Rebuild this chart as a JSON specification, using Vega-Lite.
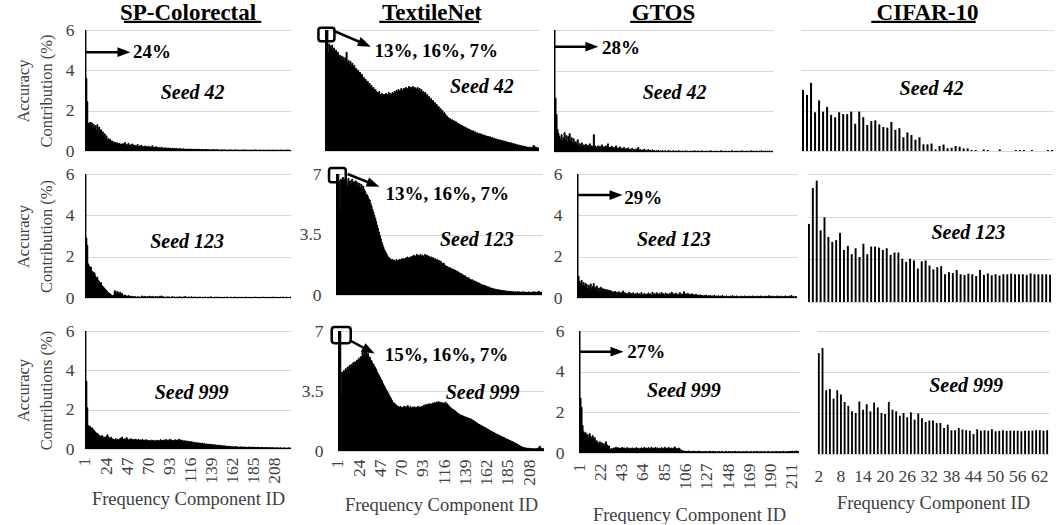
{
"padding":{"left":15,"top":2,"right":0,"bottom":0},
"background":"white",
"config":{
 "font":"Liberation Serif",
 "view":{"stroke":null},
 "axis":{"labelFont":"Liberation Serif","titleFont":"Liberation Serif","labelFontSize":17.5,"titleFontSize":18.5,"labelColor":"#404040","titleColor":"#404040","titleFontWeight":"normal","gridColor":"#d9d9d9","gridWidth":1,"domain":false,"ticks":false,"labelOverlap":false},
 "title":{"font":"Liberation Serif","fontSize":23,"fontWeight":"bold","color":"black","frame":"group","baseline":"alphabetic","offset":-4.5}
},
"datasets":{
"sp42":[{"x":1,"y":24},{"x":2,"y":3.6},{"x":3,"y":2.45},{"x":4,"y":1.38},{"x":5,"y":1.3},{"x":6,"y":1.42},{"x":7,"y":1.22},{"x":8,"y":1.4},{"x":9,"y":1.15},{"x":10,"y":1.32},{"x":11,"y":1.1},{"x":12,"y":1.25},{"x":13,"y":1.0},{"x":14,"y":1.3},{"x":15,"y":0.95},{"x":16,"y":1.18},{"x":17,"y":0.88},{"x":18,"y":1.05},{"x":19,"y":0.8},{"x":20,"y":0.95},{"x":21,"y":0.72},{"x":22,"y":0.85},{"x":23,"y":0.65},{"x":24,"y":0.75},{"x":25,"y":0.55},{"x":26,"y":0.62},{"x":27,"y":0.5},{"x":28,"y":0.58},{"x":29,"y":0.45},{"x":30,"y":0.5},{"x":31,"y":0.4},{"x":32,"y":0.45},{"x":33,"y":0.38},{"x":34,"y":0.42},{"x":35,"y":0.35},{"x":36,"y":0.4},{"x":37,"y":0.33},{"x":38,"y":0.38},{"x":39,"y":0.3},{"x":40,"y":0.35},{"x":41,"y":0.28},{"x":42,"y":0.36},{"x":43,"y":0.3},{"x":44,"y":0.42},{"x":45,"y":0.27},{"x":46,"y":0.33},{"x":47,"y":0.25},{"x":48,"y":0.38},{"x":49,"y":0.28},{"x":50,"y":0.3},{"x":51,"y":0.24},{"x":52,"y":0.35},{"x":53,"y":0.26},{"x":54,"y":0.3},{"x":55,"y":0.22},{"x":56,"y":0.27},{"x":57,"y":0.2},{"x":58,"y":0.32},{"x":59,"y":0.22},{"x":60,"y":0.25},{"x":61,"y":0.18},{"x":62,"y":0.28},{"x":63,"y":0.2},{"x":64,"y":0.23},{"x":65,"y":0.17},{"x":66,"y":0.25},{"x":67,"y":0.19},{"x":68,"y":0.22},{"x":69,"y":0.16},{"x":70,"y":0.24},{"x":71,"y":0.18},{"x":72,"y":0.2},{"x":73,"y":0.15},{"x":74,"y":0.26},{"x":75,"y":0.17},{"x":76,"y":0.19},{"x":77,"y":0.14},{"x":78,"y":0.21},{"x":79,"y":0.16},{"x":80,"y":0.18},{"x":81,"y":0.13},{"x":82,"y":0.17},{"x":83,"y":0.12},{"x":84,"y":0.19},{"x":85,"y":0.14},{"x":86,"y":0.15},{"x":87,"y":0.11},{"x":88,"y":0.16},{"x":89,"y":0.13},{"x":90,"y":0.14},{"x":91,"y":0.1},{"x":92,"y":0.15},{"x":93,"y":0.12},{"x":94,"y":0.13},{"x":95,"y":0.09},{"x":96,"y":0.14},{"x":97,"y":0.11},{"x":98,"y":0.12},{"x":99,"y":0.08},{"x":100,"y":0.13},{"x":101,"y":0.1},{"x":102,"y":0.11},{"x":103,"y":0.08},{"x":104,"y":0.12},{"x":105,"y":0.09},{"x":106,"y":0.1},{"x":107,"y":0.07},{"x":108,"y":0.11},{"x":109,"y":0.08},{"x":110,"y":0.09},{"x":111,"y":0.07},{"x":112,"y":0.1},{"x":113,"y":0.08},{"x":114,"y":0.09},{"x":115,"y":0.06},{"x":116,"y":0.1},{"x":117,"y":0.07},{"x":118,"y":0.08},{"x":119,"y":0.06},{"x":120,"y":0.09},{"x":121,"y":0.07},{"x":122,"y":0.08},{"x":123,"y":0.05},{"x":124,"y":0.09},{"x":125,"y":0.06},{"x":126,"y":0.07},{"x":127,"y":0.05},{"x":128,"y":0.08},{"x":129,"y":0.06},{"x":130,"y":0.07},{"x":131,"y":0.05},{"x":132,"y":0.08},{"x":133,"y":0.06},{"x":134,"y":0.07},{"x":135,"y":0.04},{"x":136,"y":0.07},{"x":137,"y":0.05},{"x":138,"y":0.06},{"x":139,"y":0.04},{"x":140,"y":0.07},{"x":141,"y":0.05},{"x":142,"y":0.06},{"x":143,"y":0.04},{"x":144,"y":0.07},{"x":145,"y":0.05},{"x":146,"y":0.06},{"x":147,"y":0.04},{"x":148,"y":0.05},{"x":149,"y":0.04},{"x":150,"y":0.06},{"x":151,"y":0.05},{"x":152,"y":0.04},{"x":153,"y":0.06},{"x":154,"y":0.04},{"x":155,"y":0.05},{"x":156,"y":0.03},{"x":157,"y":0.05},{"x":158,"y":0.04},{"x":159,"y":0.06},{"x":160,"y":0.04},{"x":161,"y":0.05},{"x":162,"y":0.03},{"x":163,"y":0.05},{"x":164,"y":0.04},{"x":165,"y":0.06},{"x":166,"y":0.03},{"x":167,"y":0.04},{"x":168,"y":0.05},{"x":169,"y":0.03},{"x":170,"y":0.04},{"x":171,"y":0.05},{"x":172,"y":0.03},{"x":173,"y":0.04},{"x":174,"y":0.06},{"x":175,"y":0.03},{"x":176,"y":0.04},{"x":177,"y":0.05},{"x":178,"y":0.03},{"x":179,"y":0.04},{"x":180,"y":0.03},{"x":181,"y":0.05},{"x":182,"y":0.04},{"x":183,"y":0.03},{"x":184,"y":0.05},{"x":185,"y":0.03},{"x":186,"y":0.04},{"x":187,"y":0.06},{"x":188,"y":0.03},{"x":189,"y":0.04},{"x":190,"y":0.03},{"x":191,"y":0.04},{"x":192,"y":0.05},{"x":193,"y":0.03},{"x":194,"y":0.04},{"x":195,"y":0.03},{"x":196,"y":0.05},{"x":197,"y":0.03},{"x":198,"y":0.04},{"x":199,"y":0.03},{"x":200,"y":0.04},{"x":201,"y":0.05},{"x":202,"y":0.03},{"x":203,"y":0.04},{"x":204,"y":0.03},{"x":205,"y":0.04},{"x":206,"y":0.05},{"x":207,"y":0.03},{"x":208,"y":0.04},{"x":209,"y":0.03},{"x":210,"y":0.05},{"x":211,"y":0.03},{"x":212,"y":0.04},{"x":213,"y":0.03},{"x":214,"y":0.04},{"x":215,"y":0.05},{"x":216,"y":0.03},{"x":217,"y":0.04},{"x":218,"y":0.03},{"x":219,"y":0.04},{"x":220,"y":0.03},{"x":221,"y":0.04},{"x":222,"y":0.05},{"x":223,"y":0.03},{"x":224,"y":0.04},{"x":225,"y":0.03}],
"sp123":[{"x":1,"y":6.4},{"x":2,"y":2.9},{"x":3,"y":2.55},{"x":4,"y":1.65},{"x":5,"y":1.55},{"x":6,"y":1.45},{"x":7,"y":1.5},{"x":8,"y":1.3},{"x":9,"y":1.2},{"x":10,"y":1.25},{"x":11,"y":1.2},{"x":12,"y":1.05},{"x":13,"y":0.95},{"x":14,"y":1.0},{"x":15,"y":0.85},{"x":16,"y":0.8},{"x":17,"y":0.7},{"x":18,"y":0.75},{"x":19,"y":0.6},{"x":20,"y":0.55},{"x":21,"y":0.5},{"x":22,"y":0.45},{"x":23,"y":0.4},{"x":24,"y":0.35},{"x":25,"y":0.3},{"x":26,"y":0.25},{"x":27,"y":0.22},{"x":28,"y":0.2},{"x":29,"y":0.15},{"x":30,"y":0.12},{"x":31,"y":0.1},{"x":32,"y":0.15},{"x":33,"y":0.35},{"x":34,"y":0.3},{"x":35,"y":0.2},{"x":36,"y":0.32},{"x":37,"y":0.25},{"x":38,"y":0.18},{"x":39,"y":0.28},{"x":40,"y":0.15},{"x":41,"y":0.22},{"x":42,"y":0.12},{"x":43,"y":0.1},{"x":44,"y":0.15},{"x":45,"y":0.08},{"x":46,"y":0.1},{"x":47,"y":0.06},{"x":48,"y":0.12},{"x":49,"y":0.07},{"x":50,"y":0.09},{"x":51,"y":0.05},{"x":52,"y":0.08},{"x":53,"y":0.06},{"x":54,"y":0.04},{"x":55,"y":0.07},{"x":56,"y":0.05},{"x":57,"y":0.03},{"x":58,"y":0.06},{"x":59,"y":0.04},{"x":60,"y":0.05},{"x":61,"y":0.03},{"x":62,"y":0.05},{"x":63,"y":0.1},{"x":64,"y":0.04},{"x":65,"y":0.06},{"x":66,"y":0.08},{"x":67,"y":0.03},{"x":68,"y":0.05},{"x":69,"y":0.07},{"x":70,"y":0.04},{"x":71,"y":0.09},{"x":72,"y":0.05},{"x":73,"y":0.06},{"x":74,"y":0.04},{"x":75,"y":0.08},{"x":76,"y":0.03},{"x":77,"y":0.05},{"x":78,"y":0.07},{"x":79,"y":0.04},{"x":80,"y":0.06},{"x":81,"y":0.03},{"x":82,"y":0.08},{"x":83,"y":0.05},{"x":84,"y":0.1},{"x":85,"y":0.04},{"x":86,"y":0.06},{"x":87,"y":0.03},{"x":88,"y":0.05},{"x":89,"y":0.02},{"x":90,"y":0.04},{"x":91,"y":0.06},{"x":92,"y":0.03},{"x":93,"y":0.05},{"x":94,"y":0.02},{"x":95,"y":0.04},{"x":96,"y":0.07},{"x":97,"y":0.03},{"x":98,"y":0.05},{"x":99,"y":0.02},{"x":100,"y":0.04},{"x":101,"y":0.03},{"x":102,"y":0.05},{"x":103,"y":0.02},{"x":104,"y":0.06},{"x":105,"y":0.03},{"x":106,"y":0.04},{"x":107,"y":0.02},{"x":108,"y":0.05},{"x":109,"y":0.03},{"x":110,"y":0.08},{"x":111,"y":0.02},{"x":112,"y":0.04},{"x":113,"y":0.03},{"x":114,"y":0.05},{"x":115,"y":0.02},{"x":116,"y":0.03},{"x":117,"y":0.06},{"x":118,"y":0.02},{"x":119,"y":0.04},{"x":120,"y":0.03},{"x":121,"y":0.05},{"x":122,"y":0.02},{"x":123,"y":0.03},{"x":124,"y":0.04},{"x":125,"y":0.02},{"x":126,"y":0.05},{"x":127,"y":0.03},{"x":128,"y":0.02},{"x":129,"y":0.04},{"x":130,"y":0.03},{"x":131,"y":0.02},{"x":132,"y":0.05},{"x":133,"y":0.03},{"x":134,"y":0.02},{"x":135,"y":0.04},{"x":136,"y":0.02},{"x":137,"y":0.03},{"x":138,"y":0.06},{"x":139,"y":0.02},{"x":140,"y":0.03},{"x":141,"y":0.02},{"x":142,"y":0.04},{"x":143,"y":0.03},{"x":144,"y":0.02},{"x":145,"y":0.05},{"x":146,"y":0.02},{"x":147,"y":0.03},{"x":148,"y":0.02},{"x":149,"y":0.04},{"x":150,"y":0.02},{"x":151,"y":0.03},{"x":152,"y":0.02},{"x":153,"y":0.04},{"x":154,"y":0.02},{"x":155,"y":0.03},{"x":156,"y":0.05},{"x":157,"y":0.02},{"x":158,"y":0.03},{"x":159,"y":0.02},{"x":160,"y":0.04},{"x":161,"y":0.02},{"x":162,"y":0.03},{"x":163,"y":0.02},{"x":164,"y":0.05},{"x":165,"y":0.02},{"x":166,"y":0.03},{"x":167,"y":0.02},{"x":168,"y":0.04},{"x":169,"y":0.02},{"x":170,"y":0.03},{"x":171,"y":0.02},{"x":172,"y":0.04},{"x":173,"y":0.02},{"x":174,"y":0.03},{"x":175,"y":0.02},{"x":176,"y":0.05},{"x":177,"y":0.02},{"x":178,"y":0.03},{"x":179,"y":0.02},{"x":180,"y":0.04},{"x":181,"y":0.02},{"x":182,"y":0.03},{"x":183,"y":0.02},{"x":184,"y":0.04},{"x":185,"y":0.02},{"x":186,"y":0.03},{"x":187,"y":0.05},{"x":188,"y":0.02},{"x":189,"y":0.03},{"x":190,"y":0.02},{"x":191,"y":0.04},{"x":192,"y":0.02},{"x":193,"y":0.03},{"x":194,"y":0.02},{"x":195,"y":0.05},{"x":196,"y":0.02},{"x":197,"y":0.03},{"x":198,"y":0.02},{"x":199,"y":0.04},{"x":200,"y":0.02},{"x":201,"y":0.03},{"x":202,"y":0.02},{"x":203,"y":0.04},{"x":204,"y":0.02},{"x":205,"y":0.03},{"x":206,"y":0.05},{"x":207,"y":0.02},{"x":208,"y":0.03},{"x":209,"y":0.02},{"x":210,"y":0.04},{"x":211,"y":0.02},{"x":212,"y":0.03},{"x":213,"y":0.02},{"x":214,"y":0.04},{"x":215,"y":0.02},{"x":216,"y":0.03},{"x":217,"y":0.05},{"x":218,"y":0.02},{"x":219,"y":0.03},{"x":220,"y":0.02},{"x":221,"y":0.04},{"x":222,"y":0.02},{"x":223,"y":0.03},{"x":224,"y":0.02},{"x":225,"y":0.04}],
"sp999":[{"x":1,"y":6.5},{"x":2,"y":3.45},{"x":3,"y":2.1},{"x":4,"y":1.2},{"x":5,"y":1.1},{"x":6,"y":1.15},{"x":7,"y":1.05},{"x":8,"y":1.08},{"x":9,"y":1.02},{"x":10,"y":0.95},{"x":11,"y":0.9},{"x":12,"y":0.85},{"x":13,"y":0.78},{"x":14,"y":0.8},{"x":15,"y":0.72},{"x":16,"y":0.7},{"x":17,"y":0.65},{"x":18,"y":0.6},{"x":19,"y":0.68},{"x":20,"y":0.62},{"x":21,"y":0.55},{"x":22,"y":0.6},{"x":23,"y":0.58},{"x":24,"y":0.65},{"x":25,"y":0.72},{"x":26,"y":0.62},{"x":27,"y":0.55},{"x":28,"y":0.5},{"x":29,"y":0.6},{"x":30,"y":0.52},{"x":31,"y":0.5},{"x":32,"y":0.48},{"x":33,"y":0.45},{"x":34,"y":0.52},{"x":35,"y":0.44},{"x":36,"y":0.5},{"x":37,"y":0.47},{"x":38,"y":0.42},{"x":39,"y":0.55},{"x":40,"y":0.48},{"x":41,"y":0.6},{"x":42,"y":0.5},{"x":43,"y":0.46},{"x":44,"y":0.52},{"x":45,"y":0.45},{"x":46,"y":0.58},{"x":47,"y":0.49},{"x":48,"y":0.43},{"x":49,"y":0.5},{"x":50,"y":0.46},{"x":51,"y":0.52},{"x":52,"y":0.44},{"x":53,"y":0.48},{"x":54,"y":0.41},{"x":55,"y":0.5},{"x":56,"y":0.45},{"x":57,"y":0.47},{"x":58,"y":0.42},{"x":59,"y":0.49},{"x":60,"y":0.44},{"x":61,"y":0.46},{"x":62,"y":0.4},{"x":63,"y":0.48},{"x":64,"y":0.43},{"x":65,"y":0.45},{"x":66,"y":0.39},{"x":67,"y":0.47},{"x":68,"y":0.42},{"x":69,"y":0.44},{"x":70,"y":0.4},{"x":71,"y":0.43},{"x":72,"y":0.38},{"x":73,"y":0.45},{"x":74,"y":0.41},{"x":75,"y":0.44},{"x":76,"y":0.37},{"x":77,"y":0.42},{"x":78,"y":0.4},{"x":79,"y":0.45},{"x":80,"y":0.39},{"x":81,"y":0.43},{"x":82,"y":0.4},{"x":83,"y":0.47},{"x":84,"y":0.41},{"x":85,"y":0.44},{"x":86,"y":0.38},{"x":87,"y":0.46},{"x":88,"y":0.42},{"x":89,"y":0.48},{"x":90,"y":0.4},{"x":91,"y":0.45},{"x":92,"y":0.41},{"x":93,"y":0.5},{"x":94,"y":0.43},{"x":95,"y":0.46},{"x":96,"y":0.4},{"x":97,"y":0.44},{"x":98,"y":0.38},{"x":99,"y":0.47},{"x":100,"y":0.42},{"x":101,"y":0.45},{"x":102,"y":0.39},{"x":103,"y":0.5},{"x":104,"y":0.42},{"x":105,"y":0.46},{"x":106,"y":0.4},{"x":107,"y":0.44},{"x":108,"y":0.37},{"x":109,"y":0.42},{"x":110,"y":0.38},{"x":111,"y":0.41},{"x":112,"y":0.35},{"x":113,"y":0.4},{"x":114,"y":0.36},{"x":115,"y":0.38},{"x":116,"y":0.33},{"x":117,"y":0.37},{"x":118,"y":0.32},{"x":119,"y":0.35},{"x":120,"y":0.3},{"x":121,"y":0.33},{"x":122,"y":0.29},{"x":123,"y":0.32},{"x":124,"y":0.28},{"x":125,"y":0.31},{"x":126,"y":0.26},{"x":127,"y":0.29},{"x":128,"y":0.25},{"x":129,"y":0.3},{"x":130,"y":0.24},{"x":131,"y":0.27},{"x":132,"y":0.23},{"x":133,"y":0.26},{"x":134,"y":0.22},{"x":135,"y":0.25},{"x":136,"y":0.21},{"x":137,"y":0.24},{"x":138,"y":0.2},{"x":139,"y":0.23},{"x":140,"y":0.19},{"x":141,"y":0.22},{"x":142,"y":0.18},{"x":143,"y":0.21},{"x":144,"y":0.17},{"x":145,"y":0.2},{"x":146,"y":0.16},{"x":147,"y":0.19},{"x":148,"y":0.15},{"x":149,"y":0.18},{"x":150,"y":0.14},{"x":151,"y":0.17},{"x":152,"y":0.13},{"x":153,"y":0.16},{"x":154,"y":0.12},{"x":155,"y":0.15},{"x":156,"y":0.12},{"x":157,"y":0.14},{"x":158,"y":0.11},{"x":159,"y":0.13},{"x":160,"y":0.1},{"x":161,"y":0.12},{"x":162,"y":0.1},{"x":163,"y":0.11},{"x":164,"y":0.09},{"x":165,"y":0.12},{"x":166,"y":0.1},{"x":167,"y":0.11},{"x":168,"y":0.08},{"x":169,"y":0.1},{"x":170,"y":0.09},{"x":171,"y":0.11},{"x":172,"y":0.08},{"x":173,"y":0.1},{"x":174,"y":0.09},{"x":175,"y":0.1},{"x":176,"y":0.08},{"x":177,"y":0.09},{"x":178,"y":0.07},{"x":179,"y":0.1},{"x":180,"y":0.08},{"x":181,"y":0.09},{"x":182,"y":0.07},{"x":183,"y":0.1},{"x":184,"y":0.08},{"x":185,"y":0.09},{"x":186,"y":0.07},{"x":187,"y":0.08},{"x":188,"y":0.06},{"x":189,"y":0.09},{"x":190,"y":0.07},{"x":191,"y":0.08},{"x":192,"y":0.06},{"x":193,"y":0.07},{"x":194,"y":0.08},{"x":195,"y":0.06},{"x":196,"y":0.07},{"x":197,"y":0.05},{"x":198,"y":0.08},{"x":199,"y":0.06},{"x":200,"y":0.07},{"x":201,"y":0.05},{"x":202,"y":0.07},{"x":203,"y":0.06},{"x":204,"y":0.05},{"x":205,"y":0.07},{"x":206,"y":0.05},{"x":207,"y":0.06},{"x":208,"y":0.04},{"x":209,"y":0.06},{"x":210,"y":0.05},{"x":211,"y":0.06},{"x":212,"y":0.04},{"x":213,"y":0.05},{"x":214,"y":0.06},{"x":215,"y":0.04},{"x":216,"y":0.05},{"x":217,"y":0.04},{"x":218,"y":0.06},{"x":219,"y":0.04},{"x":220,"y":0.05},{"x":221,"y":0.04},{"x":222,"y":0.05},{"x":223,"y":0.06},{"x":224,"y":0.04},{"x":225,"y":0.05}],
"tn42":[{"x":1,"y":13},{"x":2,"y":16},{"x":3,"y":7},{"x":4,"y":4.9},{"x":5,"y":5.3},{"x":6,"y":5.2},{"x":7,"y":5.05},{"x":8,"y":5.25},{"x":9,"y":4.95},{"x":10,"y":5.1},{"x":11,"y":4.85},{"x":12,"y":5.0},{"x":13,"y":4.7},{"x":14,"y":4.9},{"x":15,"y":4.6},{"x":16,"y":4.75},{"x":17,"y":4.55},{"x":18,"y":4.7},{"x":19,"y":4.5},{"x":20,"y":4.65},{"x":21,"y":4.45},{"x":22,"y":4.6},{"x":23,"y":4.9},{"x":24,"y":4.4},{"x":25,"y":4.5},{"x":26,"y":4.3},{"x":27,"y":4.45},{"x":28,"y":4.2},{"x":29,"y":4.35},{"x":30,"y":4.15},{"x":31,"y":4.25},{"x":32,"y":4.05},{"x":33,"y":4.1},{"x":34,"y":3.95},{"x":35,"y":4.0},{"x":36,"y":3.85},{"x":37,"y":3.9},{"x":38,"y":3.75},{"x":39,"y":3.8},{"x":40,"y":3.6},{"x":41,"y":3.65},{"x":42,"y":3.5},{"x":43,"y":3.55},{"x":44,"y":3.4},{"x":45,"y":3.45},{"x":46,"y":3.3},{"x":47,"y":3.35},{"x":48,"y":3.2},{"x":49,"y":3.25},{"x":50,"y":3.1},{"x":51,"y":3.15},{"x":52,"y":3.0},{"x":53,"y":3.05},{"x":54,"y":2.95},{"x":55,"y":2.9},{"x":56,"y":2.85},{"x":57,"y":2.95},{"x":58,"y":2.8},{"x":59,"y":2.75},{"x":60,"y":2.85},{"x":61,"y":2.7},{"x":62,"y":2.8},{"x":63,"y":2.75},{"x":64,"y":2.85},{"x":65,"y":2.7},{"x":66,"y":2.8},{"x":67,"y":2.9},{"x":68,"y":2.75},{"x":69,"y":2.85},{"x":70,"y":2.8},{"x":71,"y":2.9},{"x":72,"y":2.85},{"x":73,"y":2.95},{"x":74,"y":2.9},{"x":75,"y":3.0},{"x":76,"y":2.9},{"x":77,"y":3.05},{"x":78,"y":2.95},{"x":79,"y":3.0},{"x":80,"y":3.1},{"x":81,"y":2.95},{"x":82,"y":3.05},{"x":83,"y":3.1},{"x":84,"y":3.0},{"x":85,"y":3.15},{"x":86,"y":3.05},{"x":87,"y":3.1},{"x":88,"y":3.2},{"x":89,"y":3.05},{"x":90,"y":3.15},{"x":91,"y":3.1},{"x":92,"y":3.2},{"x":93,"y":3.05},{"x":94,"y":3.15},{"x":95,"y":3.1},{"x":96,"y":3.05},{"x":97,"y":3.15},{"x":98,"y":3.0},{"x":99,"y":3.1},{"x":100,"y":2.95},{"x":101,"y":3.05},{"x":102,"y":2.9},{"x":103,"y":2.95},{"x":104,"y":2.85},{"x":105,"y":2.9},{"x":106,"y":2.75},{"x":107,"y":2.8},{"x":108,"y":2.65},{"x":109,"y":2.7},{"x":110,"y":2.55},{"x":111,"y":2.6},{"x":112,"y":2.45},{"x":113,"y":2.5},{"x":114,"y":2.35},{"x":115,"y":2.4},{"x":116,"y":2.25},{"x":117,"y":2.3},{"x":118,"y":2.15},{"x":119,"y":2.2},{"x":120,"y":2.05},{"x":121,"y":2.1},{"x":122,"y":1.95},{"x":123,"y":2.0},{"x":124,"y":1.85},{"x":125,"y":1.9},{"x":126,"y":1.8},{"x":127,"y":1.75},{"x":128,"y":1.7},{"x":129,"y":1.65},{"x":130,"y":1.6},{"x":131,"y":1.6},{"x":132,"y":1.5},{"x":133,"y":1.55},{"x":134,"y":1.45},{"x":135,"y":1.5},{"x":136,"y":1.4},{"x":137,"y":1.45},{"x":138,"y":1.35},{"x":139,"y":1.38},{"x":140,"y":1.3},{"x":141,"y":1.32},{"x":142,"y":1.25},{"x":143,"y":1.28},{"x":144,"y":1.2},{"x":145,"y":1.22},{"x":146,"y":1.15},{"x":147,"y":1.18},{"x":148,"y":1.1},{"x":149,"y":1.12},{"x":150,"y":1.05},{"x":151,"y":1.08},{"x":152,"y":1.0},{"x":153,"y":1.02},{"x":154,"y":0.95},{"x":155,"y":1.0},{"x":156,"y":0.92},{"x":157,"y":0.95},{"x":158,"y":0.88},{"x":159,"y":0.9},{"x":160,"y":0.85},{"x":161,"y":0.87},{"x":162,"y":0.82},{"x":163,"y":0.85},{"x":164,"y":0.78},{"x":165,"y":0.8},{"x":166,"y":0.75},{"x":167,"y":0.78},{"x":168,"y":0.72},{"x":169,"y":0.74},{"x":170,"y":0.7},{"x":171,"y":0.72},{"x":172,"y":0.66},{"x":173,"y":0.7},{"x":174,"y":0.63},{"x":175,"y":0.66},{"x":176,"y":0.6},{"x":177,"y":0.63},{"x":178,"y":0.57},{"x":179,"y":0.6},{"x":180,"y":0.55},{"x":181,"y":0.57},{"x":182,"y":0.52},{"x":183,"y":0.55},{"x":184,"y":0.49},{"x":185,"y":0.52},{"x":186,"y":0.46},{"x":187,"y":0.5},{"x":188,"y":0.44},{"x":189,"y":0.47},{"x":190,"y":0.42},{"x":191,"y":0.44},{"x":192,"y":0.39},{"x":193,"y":0.42},{"x":194,"y":0.36},{"x":195,"y":0.4},{"x":196,"y":0.34},{"x":197,"y":0.37},{"x":198,"y":0.31},{"x":199,"y":0.34},{"x":200,"y":0.29},{"x":201,"y":0.31},{"x":202,"y":0.26},{"x":203,"y":0.29},{"x":204,"y":0.24},{"x":205,"y":0.27},{"x":206,"y":0.22},{"x":207,"y":0.25},{"x":208,"y":0.2},{"x":209,"y":0.23},{"x":210,"y":0.18},{"x":211,"y":0.2},{"x":212,"y":0.16},{"x":213,"y":0.19},{"x":214,"y":0.15},{"x":215,"y":0.18},{"x":216,"y":0.14},{"x":217,"y":0.2},{"x":218,"y":0.28},{"x":219,"y":0.22},{"x":220,"y":0.16},{"x":221,"y":0.18},{"x":222,"y":0.14},{"x":223,"y":0.15}],
"tn123":[{"x":1,"y":13},{"x":2,"y":16},{"x":3,"y":7},{"x":4,"y":6.6},{"x":5,"y":4.9},{"x":6,"y":6.7},{"x":7,"y":6.5},{"x":8,"y":6.8},{"x":9,"y":6.4},{"x":10,"y":6.7},{"x":11,"y":6.5},{"x":12,"y":6.6},{"x":13,"y":6.3},{"x":14,"y":6.75},{"x":15,"y":6.45},{"x":16,"y":6.6},{"x":17,"y":6.35},{"x":18,"y":6.7},{"x":19,"y":6.4},{"x":20,"y":6.55},{"x":21,"y":6.3},{"x":22,"y":6.6},{"x":23,"y":6.35},{"x":24,"y":6.5},{"x":25,"y":6.25},{"x":26,"y":6.45},{"x":27,"y":6.2},{"x":28,"y":6.4},{"x":29,"y":6.15},{"x":30,"y":6.3},{"x":31,"y":6.1},{"x":32,"y":6.0},{"x":33,"y":5.85},{"x":34,"y":5.8},{"x":35,"y":5.7},{"x":36,"y":5.55},{"x":37,"y":5.5},{"x":38,"y":5.3},{"x":39,"y":5.15},{"x":40,"y":4.95},{"x":41,"y":4.8},{"x":42,"y":4.6},{"x":43,"y":4.45},{"x":44,"y":4.25},{"x":45,"y":4.05},{"x":46,"y":3.85},{"x":47,"y":3.65},{"x":48,"y":3.45},{"x":49,"y":3.25},{"x":50,"y":3.05},{"x":51,"y":2.9},{"x":52,"y":2.75},{"x":53,"y":2.6},{"x":54,"y":2.5},{"x":55,"y":2.4},{"x":56,"y":2.3},{"x":57,"y":2.2},{"x":58,"y":2.15},{"x":59,"y":2.1},{"x":60,"y":2.05},{"x":61,"y":2.0},{"x":62,"y":2.05},{"x":63,"y":1.95},{"x":64,"y":2.0},{"x":65,"y":1.95},{"x":66,"y":2.05},{"x":67,"y":1.95},{"x":68,"y":2.0},{"x":69,"y":2.05},{"x":70,"y":2.0},{"x":71,"y":2.05},{"x":72,"y":2.1},{"x":73,"y":2.0},{"x":74,"y":2.1},{"x":75,"y":2.05},{"x":76,"y":2.15},{"x":77,"y":2.1},{"x":78,"y":2.2},{"x":79,"y":2.1},{"x":80,"y":2.15},{"x":81,"y":2.2},{"x":82,"y":2.15},{"x":83,"y":2.25},{"x":84,"y":2.2},{"x":85,"y":2.3},{"x":86,"y":2.15},{"x":87,"y":2.25},{"x":88,"y":2.35},{"x":89,"y":2.2},{"x":90,"y":2.3},{"x":91,"y":2.25},{"x":92,"y":2.35},{"x":93,"y":2.2},{"x":94,"y":2.3},{"x":95,"y":2.25},{"x":96,"y":2.2},{"x":97,"y":2.35},{"x":98,"y":2.25},{"x":99,"y":2.3},{"x":100,"y":2.2},{"x":101,"y":2.25},{"x":102,"y":2.2},{"x":103,"y":2.15},{"x":104,"y":2.2},{"x":105,"y":2.1},{"x":106,"y":2.15},{"x":107,"y":2.05},{"x":108,"y":2.1},{"x":109,"y":2.0},{"x":110,"y":2.05},{"x":111,"y":1.95},{"x":112,"y":2.0},{"x":113,"y":1.9},{"x":114,"y":1.95},{"x":115,"y":1.85},{"x":116,"y":1.8},{"x":117,"y":1.85},{"x":118,"y":1.75},{"x":119,"y":1.7},{"x":120,"y":1.65},{"x":121,"y":1.65},{"x":122,"y":1.6},{"x":123,"y":1.55},{"x":124,"y":1.58},{"x":125,"y":1.5},{"x":126,"y":1.52},{"x":127,"y":1.45},{"x":128,"y":1.48},{"x":129,"y":1.4},{"x":130,"y":1.42},{"x":131,"y":1.35},{"x":132,"y":1.38},{"x":133,"y":1.3},{"x":134,"y":1.28},{"x":135,"y":1.22},{"x":136,"y":1.25},{"x":137,"y":1.18},{"x":138,"y":1.15},{"x":139,"y":1.1},{"x":140,"y":1.12},{"x":141,"y":1.05},{"x":142,"y":1.02},{"x":143,"y":0.98},{"x":144,"y":1.0},{"x":145,"y":0.92},{"x":146,"y":0.9},{"x":147,"y":0.85},{"x":148,"y":0.88},{"x":149,"y":0.8},{"x":150,"y":0.82},{"x":151,"y":0.75},{"x":152,"y":0.78},{"x":153,"y":0.7},{"x":154,"y":0.72},{"x":155,"y":0.66},{"x":156,"y":0.68},{"x":157,"y":0.62},{"x":158,"y":0.6},{"x":159,"y":0.57},{"x":160,"y":0.58},{"x":161,"y":0.53},{"x":162,"y":0.55},{"x":163,"y":0.5},{"x":164,"y":0.48},{"x":165,"y":0.45},{"x":166,"y":0.47},{"x":167,"y":0.42},{"x":168,"y":0.4},{"x":169,"y":0.38},{"x":170,"y":0.39},{"x":171,"y":0.35},{"x":172,"y":0.33},{"x":173,"y":0.34},{"x":174,"y":0.3},{"x":175,"y":0.32},{"x":176,"y":0.28},{"x":177,"y":0.3},{"x":178,"y":0.26},{"x":179,"y":0.28},{"x":180,"y":0.25},{"x":181,"y":0.26},{"x":182,"y":0.23},{"x":183,"y":0.25},{"x":184,"y":0.21},{"x":185,"y":0.23},{"x":186,"y":0.2},{"x":187,"y":0.22},{"x":188,"y":0.19},{"x":189,"y":0.21},{"x":190,"y":0.18},{"x":191,"y":0.2},{"x":192,"y":0.17},{"x":193,"y":0.19},{"x":194,"y":0.16},{"x":195,"y":0.18},{"x":196,"y":0.15},{"x":197,"y":0.2},{"x":198,"y":0.16},{"x":199,"y":0.18},{"x":200,"y":0.15},{"x":201,"y":0.17},{"x":202,"y":0.14},{"x":203,"y":0.19},{"x":204,"y":0.15},{"x":205,"y":0.17},{"x":206,"y":0.14},{"x":207,"y":0.16},{"x":208,"y":0.13},{"x":209,"y":0.18},{"x":210,"y":0.15},{"x":211,"y":0.16},{"x":212,"y":0.13},{"x":213,"y":0.17},{"x":214,"y":0.14},{"x":215,"y":0.19},{"x":216,"y":0.15},{"x":217,"y":0.17},{"x":218,"y":0.13},{"x":219,"y":0.16},{"x":220,"y":0.22},{"x":221,"y":0.17},{"x":222,"y":0.14},{"x":223,"y":0.16}],
"tn999":[{"x":1,"y":15},{"x":2,"y":16},{"x":3,"y":7},{"x":4,"y":3.3},{"x":5,"y":4.6},{"x":6,"y":4.5},{"x":7,"y":4.7},{"x":8,"y":4.55},{"x":9,"y":4.8},{"x":10,"y":4.65},{"x":11,"y":4.9},{"x":12,"y":4.75},{"x":13,"y":5.0},{"x":14,"y":4.85},{"x":15,"y":5.05},{"x":16,"y":4.95},{"x":17,"y":5.15},{"x":18,"y":5.0},{"x":19,"y":5.2},{"x":20,"y":5.1},{"x":21,"y":5.3},{"x":22,"y":5.2},{"x":23,"y":5.4},{"x":24,"y":5.3},{"x":25,"y":5.5},{"x":26,"y":5.45},{"x":27,"y":5.9},{"x":28,"y":5.6},{"x":29,"y":6.0},{"x":30,"y":5.7},{"x":31,"y":5.85},{"x":32,"y":5.6},{"x":33,"y":5.7},{"x":34,"y":5.5},{"x":35,"y":5.45},{"x":36,"y":5.3},{"x":37,"y":5.25},{"x":38,"y":5.1},{"x":39,"y":5.05},{"x":40,"y":4.95},{"x":41,"y":4.85},{"x":42,"y":4.75},{"x":43,"y":4.6},{"x":44,"y":4.5},{"x":45,"y":4.4},{"x":46,"y":4.3},{"x":47,"y":4.2},{"x":48,"y":4.1},{"x":49,"y":3.95},{"x":50,"y":3.85},{"x":51,"y":3.75},{"x":52,"y":3.65},{"x":53,"y":3.55},{"x":54,"y":3.45},{"x":55,"y":3.35},{"x":56,"y":3.25},{"x":57,"y":3.15},{"x":58,"y":3.05},{"x":59,"y":2.95},{"x":60,"y":2.85},{"x":61,"y":2.8},{"x":62,"y":2.75},{"x":63,"y":2.7},{"x":64,"y":2.65},{"x":65,"y":2.6},{"x":66,"y":2.58},{"x":67,"y":2.55},{"x":68,"y":2.6},{"x":69,"y":2.5},{"x":70,"y":2.55},{"x":71,"y":2.5},{"x":72,"y":2.6},{"x":73,"y":2.52},{"x":74,"y":2.58},{"x":75,"y":2.5},{"x":76,"y":2.65},{"x":77,"y":2.55},{"x":78,"y":2.5},{"x":79,"y":2.6},{"x":80,"y":2.48},{"x":81,"y":2.55},{"x":82,"y":2.5},{"x":83,"y":2.58},{"x":84,"y":2.45},{"x":85,"y":2.55},{"x":86,"y":2.52},{"x":87,"y":2.6},{"x":88,"y":2.5},{"x":89,"y":2.57},{"x":90,"y":2.53},{"x":91,"y":2.6},{"x":92,"y":2.55},{"x":93,"y":2.65},{"x":94,"y":2.58},{"x":95,"y":2.7},{"x":96,"y":2.62},{"x":97,"y":2.72},{"x":98,"y":2.65},{"x":99,"y":2.75},{"x":100,"y":2.68},{"x":101,"y":2.75},{"x":102,"y":2.7},{"x":103,"y":2.8},{"x":104,"y":2.72},{"x":105,"y":2.82},{"x":106,"y":2.75},{"x":107,"y":2.85},{"x":108,"y":2.78},{"x":109,"y":2.88},{"x":110,"y":2.8},{"x":111,"y":2.85},{"x":112,"y":2.78},{"x":113,"y":2.82},{"x":114,"y":2.75},{"x":115,"y":2.8},{"x":116,"y":2.72},{"x":117,"y":2.85},{"x":118,"y":2.7},{"x":119,"y":2.75},{"x":120,"y":2.65},{"x":121,"y":2.6},{"x":122,"y":2.55},{"x":123,"y":2.5},{"x":124,"y":2.45},{"x":125,"y":2.42},{"x":126,"y":2.38},{"x":127,"y":2.35},{"x":128,"y":2.3},{"x":129,"y":2.25},{"x":130,"y":2.2},{"x":131,"y":2.18},{"x":132,"y":2.12},{"x":133,"y":2.1},{"x":134,"y":2.05},{"x":135,"y":2.08},{"x":136,"y":2.0},{"x":137,"y":2.02},{"x":138,"y":1.96},{"x":139,"y":1.98},{"x":140,"y":1.92},{"x":141,"y":1.94},{"x":142,"y":1.88},{"x":143,"y":1.9},{"x":144,"y":1.84},{"x":145,"y":1.86},{"x":146,"y":1.8},{"x":147,"y":1.78},{"x":148,"y":1.72},{"x":149,"y":1.7},{"x":150,"y":1.65},{"x":151,"y":1.63},{"x":152,"y":1.58},{"x":153,"y":1.56},{"x":154,"y":1.52},{"x":155,"y":1.5},{"x":156,"y":1.46},{"x":157,"y":1.45},{"x":158,"y":1.4},{"x":159,"y":1.38},{"x":160,"y":1.35},{"x":161,"y":1.33},{"x":162,"y":1.28},{"x":163,"y":1.26},{"x":164,"y":1.22},{"x":165,"y":1.2},{"x":166,"y":1.16},{"x":167,"y":1.14},{"x":168,"y":1.1},{"x":169,"y":1.08},{"x":170,"y":1.04},{"x":171,"y":1.02},{"x":172,"y":0.98},{"x":173,"y":0.97},{"x":174,"y":0.93},{"x":175,"y":0.92},{"x":176,"y":0.88},{"x":177,"y":0.86},{"x":178,"y":0.83},{"x":179,"y":0.81},{"x":180,"y":0.78},{"x":181,"y":0.76},{"x":182,"y":0.72},{"x":183,"y":0.7},{"x":184,"y":0.67},{"x":185,"y":0.65},{"x":186,"y":0.62},{"x":187,"y":0.6},{"x":188,"y":0.57},{"x":189,"y":0.55},{"x":190,"y":0.52},{"x":191,"y":0.5},{"x":192,"y":0.46},{"x":193,"y":0.44},{"x":194,"y":0.4},{"x":195,"y":0.38},{"x":196,"y":0.34},{"x":197,"y":0.32},{"x":198,"y":0.28},{"x":199,"y":0.26},{"x":200,"y":0.22},{"x":201,"y":0.2},{"x":202,"y":0.18},{"x":203,"y":0.19},{"x":204,"y":0.16},{"x":205,"y":0.17},{"x":206,"y":0.14},{"x":207,"y":0.16},{"x":208,"y":0.13},{"x":209,"y":0.15},{"x":210,"y":0.12},{"x":211,"y":0.14},{"x":212,"y":0.12},{"x":213,"y":0.13},{"x":214,"y":0.11},{"x":215,"y":0.14},{"x":216,"y":0.12},{"x":217,"y":0.15},{"x":218,"y":0.2},{"x":219,"y":0.28},{"x":220,"y":0.18},{"x":221,"y":0.14},{"x":222,"y":0.12},{"x":223,"y":0.13}],
"gt42":[{"x":1,"y":28},{"x":2,"y":2.65},{"x":3,"y":1.85},{"x":4,"y":1.1},{"x":5,"y":0.9},{"x":6,"y":0.75},{"x":7,"y":0.6},{"x":8,"y":0.85},{"x":9,"y":0.55},{"x":10,"y":0.7},{"x":11,"y":0.95},{"x":12,"y":0.6},{"x":13,"y":0.8},{"x":14,"y":0.5},{"x":15,"y":0.75},{"x":16,"y":0.9},{"x":17,"y":0.55},{"x":18,"y":0.7},{"x":19,"y":0.45},{"x":20,"y":0.65},{"x":21,"y":0.4},{"x":22,"y":0.5},{"x":23,"y":0.35},{"x":24,"y":0.6},{"x":25,"y":0.3},{"x":26,"y":0.4},{"x":27,"y":0.25},{"x":28,"y":0.45},{"x":29,"y":0.3},{"x":30,"y":0.35},{"x":31,"y":0.2},{"x":32,"y":0.38},{"x":33,"y":0.28},{"x":34,"y":0.33},{"x":35,"y":0.22},{"x":36,"y":0.4},{"x":37,"y":0.25},{"x":38,"y":0.3},{"x":39,"y":0.2},{"x":40,"y":0.85},{"x":41,"y":0.3},{"x":42,"y":0.25},{"x":43,"y":0.18},{"x":44,"y":0.3},{"x":45,"y":0.22},{"x":46,"y":0.28},{"x":47,"y":0.15},{"x":48,"y":0.35},{"x":49,"y":0.2},{"x":50,"y":0.26},{"x":51,"y":0.18},{"x":52,"y":0.3},{"x":53,"y":0.15},{"x":54,"y":0.4},{"x":55,"y":0.2},{"x":56,"y":0.24},{"x":57,"y":0.14},{"x":58,"y":0.28},{"x":59,"y":0.18},{"x":60,"y":0.22},{"x":61,"y":0.12},{"x":62,"y":0.3},{"x":63,"y":0.16},{"x":64,"y":0.2},{"x":65,"y":0.12},{"x":66,"y":0.25},{"x":67,"y":0.14},{"x":68,"y":0.18},{"x":69,"y":0.1},{"x":70,"y":0.22},{"x":71,"y":0.12},{"x":72,"y":0.16},{"x":73,"y":0.08},{"x":74,"y":0.2},{"x":75,"y":0.1},{"x":76,"y":0.14},{"x":77,"y":0.06},{"x":78,"y":0.18},{"x":79,"y":0.1},{"x":80,"y":0.12},{"x":81,"y":0.05},{"x":82,"y":0.15},{"x":83,"y":0.08},{"x":84,"y":0.22},{"x":85,"y":0.06},{"x":86,"y":0.12},{"x":87,"y":0.04},{"x":88,"y":0.1},{"x":89,"y":0.08},{"x":90,"y":0.14},{"x":91,"y":0.05},{"x":92,"y":0.09},{"x":93,"y":0.03},{"x":94,"y":0.12},{"x":95,"y":0.06},{"x":96,"y":0.08},{"x":97,"y":0.02},{"x":98,"y":0.1},{"x":99,"y":0.05},{"x":100,"y":0.07},{"x":101,"y":0.02},{"x":102,"y":0.06},{"x":103,"y":0.04},{"x":104,"y":0.08},{"x":105,"y":0.01},{"x":106,"y":0.05},{"x":107,"y":0.03},{"x":108,"y":0.07},{"x":109,"y":0.02},{"x":110,"y":0.04},{"x":111,"y":0.06},{"x":112,"y":0.01},{"x":113,"y":0.03},{"x":114,"y":0.08},{"x":115,"y":0.02},{"x":116,"y":0.05},{"x":117,"y":0},{"x":118,"y":0.04},{"x":119,"y":0.06},{"x":120,"y":0.01},{"x":121,"y":0.03},{"x":122,"y":0.05},{"x":123,"y":0},{"x":124,"y":0.07},{"x":125,"y":0.02},{"x":126,"y":0.04},{"x":127,"y":0.01},{"x":128,"y":0.05},{"x":129,"y":0.03},{"x":130,"y":0},{"x":131,"y":0.06},{"x":132,"y":0.02},{"x":133,"y":0.04},{"x":134,"y":0},{"x":135,"y":0.03},{"x":136,"y":0.05},{"x":137,"y":0.01},{"x":138,"y":0.04},{"x":139,"y":0.02},{"x":140,"y":0.06},{"x":141,"y":0},{"x":142,"y":0.03},{"x":143,"y":0.05},{"x":144,"y":0.01},{"x":145,"y":0.04},{"x":146,"y":0},{"x":147,"y":0.06},{"x":148,"y":0.02},{"x":149,"y":0.03},{"x":150,"y":0.01},{"x":151,"y":0.05},{"x":152,"y":0},{"x":153,"y":0.03},{"x":154,"y":0.04},{"x":155,"y":0.01},{"x":156,"y":0.06},{"x":157,"y":0.02},{"x":158,"y":0},{"x":159,"y":0.04},{"x":160,"y":0.03},{"x":161,"y":0.01},{"x":162,"y":0.05},{"x":163,"y":0},{"x":164,"y":0.03},{"x":165,"y":0.02},{"x":166,"y":0.06},{"x":167,"y":0},{"x":168,"y":0.04},{"x":169,"y":0.01},{"x":170,"y":0.03},{"x":171,"y":0.05},{"x":172,"y":0},{"x":173,"y":0.02},{"x":174,"y":0.04},{"x":175,"y":0.01},{"x":176,"y":0.03},{"x":177,"y":0.06},{"x":178,"y":0},{"x":179,"y":0.02},{"x":180,"y":0.04},{"x":181,"y":0.01},{"x":182,"y":0.05},{"x":183,"y":0.03},{"x":184,"y":0},{"x":185,"y":0.04},{"x":186,"y":0.02},{"x":187,"y":0.06},{"x":188,"y":0.01},{"x":189,"y":0.03},{"x":190,"y":0},{"x":191,"y":0.05},{"x":192,"y":0.02},{"x":193,"y":0.04},{"x":194,"y":0},{"x":195,"y":0.03},{"x":196,"y":0.06},{"x":197,"y":0.01},{"x":198,"y":0.04},{"x":199,"y":0.02},{"x":200,"y":0},{"x":201,"y":0.05},{"x":202,"y":0.03},{"x":203,"y":0.01},{"x":204,"y":0.04},{"x":205,"y":0},{"x":206,"y":0.06},{"x":207,"y":0.02},{"x":208,"y":0.03},{"x":209,"y":0.01},{"x":210,"y":0.05},{"x":211,"y":0},{"x":212,"y":0.04},{"x":213,"y":0.02},{"x":214,"y":0.05},{"x":215,"y":0.01},{"x":216,"y":0.03},{"x":217,"y":0.04}],
"gt123":[{"x":1,"y":29},{"x":2,"y":1.05},{"x":3,"y":0.8},{"x":4,"y":0.7},{"x":5,"y":0.85},{"x":6,"y":0.6},{"x":7,"y":0.75},{"x":8,"y":0.55},{"x":9,"y":0.7},{"x":10,"y":0.65},{"x":11,"y":0.45},{"x":12,"y":0.62},{"x":13,"y":0.5},{"x":14,"y":0.68},{"x":15,"y":0.42},{"x":16,"y":0.55},{"x":17,"y":0.7},{"x":18,"y":0.4},{"x":19,"y":0.5},{"x":20,"y":0.58},{"x":21,"y":0.35},{"x":22,"y":0.48},{"x":23,"y":0.3},{"x":24,"y":0.52},{"x":25,"y":0.38},{"x":26,"y":0.45},{"x":27,"y":0.28},{"x":28,"y":0.42},{"x":29,"y":0.33},{"x":30,"y":0.4},{"x":31,"y":0.25},{"x":32,"y":0.38},{"x":33,"y":0.22},{"x":34,"y":0.35},{"x":35,"y":0.2},{"x":36,"y":0.3},{"x":37,"y":0.24},{"x":38,"y":0.32},{"x":39,"y":0.18},{"x":40,"y":0.28},{"x":41,"y":0.22},{"x":42,"y":0.3},{"x":43,"y":0.16},{"x":44,"y":0.26},{"x":45,"y":0.2},{"x":46,"y":0.34},{"x":47,"y":0.15},{"x":48,"y":0.25},{"x":49,"y":0.18},{"x":50,"y":0.22},{"x":51,"y":0.14},{"x":52,"y":0.28},{"x":53,"y":0.17},{"x":54,"y":0.22},{"x":55,"y":0.12},{"x":56,"y":0.25},{"x":57,"y":0.16},{"x":58,"y":0.2},{"x":59,"y":0.13},{"x":60,"y":0.24},{"x":61,"y":0.15},{"x":62,"y":0.2},{"x":63,"y":0.12},{"x":64,"y":0.26},{"x":65,"y":0.14},{"x":66,"y":0.18},{"x":67,"y":0.22},{"x":68,"y":0.13},{"x":69,"y":0.19},{"x":70,"y":0.15},{"x":71,"y":0.24},{"x":72,"y":0.14},{"x":73,"y":0.2},{"x":74,"y":0.12},{"x":75,"y":0.28},{"x":76,"y":0.16},{"x":77,"y":0.21},{"x":78,"y":0.14},{"x":79,"y":0.25},{"x":80,"y":0.18},{"x":81,"y":0.15},{"x":82,"y":0.22},{"x":83,"y":0.13},{"x":84,"y":0.26},{"x":85,"y":0.17},{"x":86,"y":0.2},{"x":87,"y":0.12},{"x":88,"y":0.24},{"x":89,"y":0.16},{"x":90,"y":0.19},{"x":91,"y":0.13},{"x":92,"y":0.22},{"x":93,"y":0.15},{"x":94,"y":0.28},{"x":95,"y":0.14},{"x":96,"y":0.2},{"x":97,"y":0.12},{"x":98,"y":0.23},{"x":99,"y":0.16},{"x":100,"y":0.18},{"x":101,"y":0.12},{"x":102,"y":0.26},{"x":103,"y":0.14},{"x":104,"y":0.19},{"x":105,"y":0.11},{"x":106,"y":0.3},{"x":107,"y":0.15},{"x":108,"y":0.2},{"x":109,"y":0.12},{"x":110,"y":0.22},{"x":111,"y":0.14},{"x":112,"y":0.18},{"x":113,"y":0.1},{"x":114,"y":0.2},{"x":115,"y":0.13},{"x":116,"y":0.16},{"x":117,"y":0.09},{"x":118,"y":0.18},{"x":119,"y":0.12},{"x":120,"y":0.14},{"x":121,"y":0.08},{"x":122,"y":0.15},{"x":123,"y":0.1},{"x":124,"y":0.13},{"x":125,"y":0.07},{"x":126,"y":0.12},{"x":127,"y":0.09},{"x":128,"y":0.14},{"x":129,"y":0.06},{"x":130,"y":0.11},{"x":131,"y":0.08},{"x":132,"y":0.12},{"x":133,"y":0.06},{"x":134,"y":0.1},{"x":135,"y":0.08},{"x":136,"y":0.13},{"x":137,"y":0.05},{"x":138,"y":0.09},{"x":139,"y":0.07},{"x":140,"y":0.11},{"x":141,"y":0.05},{"x":142,"y":0.09},{"x":143,"y":0.07},{"x":144,"y":0.12},{"x":145,"y":0.06},{"x":146,"y":0.08},{"x":147,"y":0.04},{"x":148,"y":0.1},{"x":149,"y":0.06},{"x":150,"y":0.08},{"x":151,"y":0.05},{"x":152,"y":0.09},{"x":153,"y":0.06},{"x":154,"y":0.11},{"x":155,"y":0.04},{"x":156,"y":0.08},{"x":157,"y":0.06},{"x":158,"y":0.1},{"x":159,"y":0.05},{"x":160,"y":0.07},{"x":161,"y":0.04},{"x":162,"y":0.09},{"x":163,"y":0.06},{"x":164,"y":0.08},{"x":165,"y":0.05},{"x":166,"y":0.1},{"x":167,"y":0.04},{"x":168,"y":0.07},{"x":169,"y":0.06},{"x":170,"y":0.09},{"x":171,"y":0.05},{"x":172,"y":0.08},{"x":173,"y":0.04},{"x":174,"y":0.1},{"x":175,"y":0.06},{"x":176,"y":0.07},{"x":177,"y":0.05},{"x":178,"y":0.09},{"x":179,"y":0.04},{"x":180,"y":0.08},{"x":181,"y":0.06},{"x":182,"y":0.1},{"x":183,"y":0.05},{"x":184,"y":0.07},{"x":185,"y":0.04},{"x":186,"y":0.09},{"x":187,"y":0.06},{"x":188,"y":0.08},{"x":189,"y":0.05},{"x":190,"y":0.11},{"x":191,"y":0.04},{"x":192,"y":0.08},{"x":193,"y":0.06},{"x":194,"y":0.09},{"x":195,"y":0.05},{"x":196,"y":0.07},{"x":197,"y":0.04},{"x":198,"y":0.1},{"x":199,"y":0.06},{"x":200,"y":0.08},{"x":201,"y":0.05},{"x":202,"y":0.09},{"x":203,"y":0.04},{"x":204,"y":0.07},{"x":205,"y":0.06},{"x":206,"y":0.1},{"x":207,"y":0.05},{"x":208,"y":0.08},{"x":209,"y":0.04},{"x":210,"y":0.09},{"x":211,"y":0.06},{"x":212,"y":0.12},{"x":213,"y":0.05},{"x":214,"y":0.08},{"x":215,"y":0.04},{"x":216,"y":0.07},{"x":217,"y":0.06}],
"gt999":[{"x":1,"y":27},{"x":2,"y":2.7},{"x":3,"y":2.25},{"x":4,"y":1.35},{"x":5,"y":1.05},{"x":6,"y":0.95},{"x":7,"y":1.0},{"x":8,"y":0.85},{"x":9,"y":0.9},{"x":10,"y":0.75},{"x":11,"y":0.95},{"x":12,"y":0.8},{"x":13,"y":0.7},{"x":14,"y":0.85},{"x":15,"y":0.65},{"x":16,"y":0.75},{"x":17,"y":0.55},{"x":18,"y":0.6},{"x":19,"y":0.5},{"x":20,"y":0.45},{"x":21,"y":0.55},{"x":22,"y":0.4},{"x":23,"y":0.5},{"x":24,"y":0.35},{"x":25,"y":0.45},{"x":26,"y":0.3},{"x":27,"y":0.55},{"x":28,"y":0.4},{"x":29,"y":0.25},{"x":30,"y":0.35},{"x":31,"y":0.2},{"x":32,"y":0.15},{"x":33,"y":0.22},{"x":34,"y":0.18},{"x":35,"y":0.25},{"x":36,"y":0.2},{"x":37,"y":0.28},{"x":38,"y":0.22},{"x":39,"y":0.26},{"x":40,"y":0.2},{"x":41,"y":0.24},{"x":42,"y":0.18},{"x":43,"y":0.27},{"x":44,"y":0.21},{"x":45,"y":0.25},{"x":46,"y":0.19},{"x":47,"y":0.23},{"x":48,"y":0.26},{"x":49,"y":0.2},{"x":50,"y":0.24},{"x":51,"y":0.18},{"x":52,"y":0.22},{"x":53,"y":0.25},{"x":54,"y":0.19},{"x":55,"y":0.23},{"x":56,"y":0.2},{"x":57,"y":0.26},{"x":58,"y":0.21},{"x":59,"y":0.24},{"x":60,"y":0.18},{"x":61,"y":0.22},{"x":62,"y":0.25},{"x":63,"y":0.19},{"x":64,"y":0.23},{"x":65,"y":0.27},{"x":66,"y":0.2},{"x":67,"y":0.24},{"x":68,"y":0.21},{"x":69,"y":0.26},{"x":70,"y":0.19},{"x":71,"y":0.23},{"x":72,"y":0.28},{"x":73,"y":0.2},{"x":74,"y":0.24},{"x":75,"y":0.22},{"x":76,"y":0.27},{"x":77,"y":0.19},{"x":78,"y":0.25},{"x":79,"y":0.21},{"x":80,"y":0.23},{"x":81,"y":0.18},{"x":82,"y":0.26},{"x":83,"y":0.22},{"x":84,"y":0.2},{"x":85,"y":0.28},{"x":86,"y":0.21},{"x":87,"y":0.24},{"x":88,"y":0.19},{"x":89,"y":0.27},{"x":90,"y":0.22},{"x":91,"y":0.2},{"x":92,"y":0.25},{"x":93,"y":0.18},{"x":94,"y":0.23},{"x":95,"y":0.3},{"x":96,"y":0.2},{"x":97,"y":0.22},{"x":98,"y":0.17},{"x":99,"y":0.24},{"x":100,"y":0.19},{"x":101,"y":0.15},{"x":102,"y":0.12},{"x":103,"y":0.08},{"x":104,"y":0.1},{"x":105,"y":0.06},{"x":106,"y":0.09},{"x":107,"y":0.05},{"x":108,"y":0.08},{"x":109,"y":0.1},{"x":110,"y":0.06},{"x":111,"y":0.07},{"x":112,"y":0.05},{"x":113,"y":0.09},{"x":114,"y":0.06},{"x":115,"y":0.08},{"x":116,"y":0.04},{"x":117,"y":0.07},{"x":118,"y":0.09},{"x":119,"y":0.05},{"x":120,"y":0.08},{"x":121,"y":0.06},{"x":122,"y":0.04},{"x":123,"y":0.07},{"x":124,"y":0.05},{"x":125,"y":0.08},{"x":126,"y":0.06},{"x":127,"y":0.04},{"x":128,"y":0.07},{"x":129,"y":0.05},{"x":130,"y":0.09},{"x":131,"y":0.04},{"x":132,"y":0.06},{"x":133,"y":0.08},{"x":134,"y":0.05},{"x":135,"y":0.07},{"x":136,"y":0.04},{"x":137,"y":0.06},{"x":138,"y":0.05},{"x":139,"y":0.08},{"x":140,"y":0.04},{"x":141,"y":0.06},{"x":142,"y":0.07},{"x":143,"y":0.04},{"x":144,"y":0.05},{"x":145,"y":0.08},{"x":146,"y":0.06},{"x":147,"y":0.04},{"x":148,"y":0.07},{"x":149,"y":0.05},{"x":150,"y":0.06},{"x":151,"y":0.04},{"x":152,"y":0.07},{"x":153,"y":0.05},{"x":154,"y":0.06},{"x":155,"y":0.08},{"x":156,"y":0.04},{"x":157,"y":0.05},{"x":158,"y":0.07},{"x":159,"y":0.06},{"x":160,"y":0.04},{"x":161,"y":0.06},{"x":162,"y":0.05},{"x":163,"y":0.07},{"x":164,"y":0.04},{"x":165,"y":0.06},{"x":166,"y":0.08},{"x":167,"y":0.05},{"x":168,"y":0.04},{"x":169,"y":0.06},{"x":170,"y":0.07},{"x":171,"y":0.05},{"x":172,"y":0.04},{"x":173,"y":0.07},{"x":174,"y":0.06},{"x":175,"y":0.05},{"x":176,"y":0.08},{"x":177,"y":0.04},{"x":178,"y":0.06},{"x":179,"y":0.05},{"x":180,"y":0.07},{"x":181,"y":0.04},{"x":182,"y":0.06},{"x":183,"y":0.05},{"x":184,"y":0.07},{"x":185,"y":0.04},{"x":186,"y":0.05},{"x":187,"y":0.08},{"x":188,"y":0.06},{"x":189,"y":0.04},{"x":190,"y":0.05},{"x":191,"y":0.07},{"x":192,"y":0.05},{"x":193,"y":0.06},{"x":194,"y":0.04},{"x":195,"y":0.08},{"x":196,"y":0.05},{"x":197,"y":0.06},{"x":198,"y":0.04},{"x":199,"y":0.07},{"x":200,"y":0.05},{"x":201,"y":0.06},{"x":202,"y":0.08},{"x":203,"y":0.05},{"x":204,"y":0.04},{"x":205,"y":0.07},{"x":206,"y":0.06},{"x":207,"y":0.05},{"x":208,"y":0.08},{"x":209,"y":0.06},{"x":210,"y":0.07},{"x":211,"y":0.09},{"x":212,"y":0.06},{"x":213,"y":0.08},{"x":214,"y":0.07},{"x":215,"y":0.1},{"x":216,"y":0.08},{"x":217,"y":0.06}],
"cf42":[{"x":2,"y":3.03},{"x":3,"y":2.78},{"x":4,"y":3.38},{"x":5,"y":1.92},{"x":6,"y":2.51},{"x":7,"y":1.95},{"x":8,"y":2.19},{"x":9,"y":1.79},{"x":10,"y":1.67},{"x":11,"y":1.92},{"x":12,"y":1.83},{"x":13,"y":1.83},{"x":14,"y":1.95},{"x":15,"y":1.35},{"x":16,"y":1.95},{"x":17,"y":1.68},{"x":18,"y":1.29},{"x":19,"y":1.48},{"x":20,"y":1.52},{"x":21,"y":1.32},{"x":22,"y":1.19},{"x":23,"y":1.16},{"x":24,"y":1.44},{"x":25,"y":1.05},{"x":26,"y":1.13},{"x":27,"y":0.68},{"x":28,"y":0.92},{"x":29,"y":0.79},{"x":30,"y":0.56},{"x":31,"y":0.68},{"x":32,"y":0.33},{"x":33,"y":0.33},{"x":34,"y":0.37},{"x":35,"y":0.08},{"x":36,"y":0.25},{"x":37,"y":0.32},{"x":38,"y":0.13},{"x":39,"y":0.16},{"x":40,"y":0.25},{"x":41,"y":0.21},{"x":42,"y":0.13},{"x":43,"y":0.13},{"x":44,"y":0.05},{"x":45,"y":0.05},{"x":46,"y":0},{"x":47,"y":0.08},{"x":48,"y":0.05},{"x":49,"y":0},{"x":50,"y":0},{"x":51,"y":0.08},{"x":52,"y":0},{"x":53,"y":0},{"x":54,"y":0},{"x":55,"y":0.05},{"x":56,"y":0.05},{"x":57,"y":0.05},{"x":58,"y":0},{"x":59,"y":0.05},{"x":60,"y":0},{"x":61,"y":0},{"x":62,"y":0},{"x":63,"y":0.05},{"x":64,"y":0.05}],
"cf123":[{"x":2,"y":3.66},{"x":3,"y":5.34},{"x":4,"y":5.69},{"x":5,"y":3.36},{"x":6,"y":3.97},{"x":7,"y":3.05},{"x":8,"y":2.82},{"x":9,"y":2.9},{"x":10,"y":3.24},{"x":11,"y":2.44},{"x":12,"y":2.63},{"x":13,"y":2.24},{"x":14,"y":2.52},{"x":15,"y":2.11},{"x":16,"y":2.73},{"x":17,"y":2.24},{"x":18,"y":2.6},{"x":19,"y":2.6},{"x":20,"y":2.55},{"x":21,"y":2.44},{"x":22,"y":2.52},{"x":23,"y":2.21},{"x":24,"y":2.32},{"x":25,"y":2.32},{"x":26,"y":2.03},{"x":27,"y":1.88},{"x":28,"y":2.03},{"x":29,"y":1.95},{"x":30,"y":1.57},{"x":31,"y":1.91},{"x":32,"y":1.95},{"x":33,"y":1.71},{"x":34,"y":1.53},{"x":35,"y":1.63},{"x":36,"y":1.68},{"x":37,"y":1.3},{"x":38,"y":1.4},{"x":39,"y":1.36},{"x":40,"y":1.5},{"x":41,"y":1.3},{"x":42,"y":1.27},{"x":43,"y":1.33},{"x":44,"y":1.3},{"x":45,"y":1.22},{"x":46,"y":1.5},{"x":47,"y":1.27},{"x":48,"y":1.34},{"x":49,"y":1.25},{"x":50,"y":1.3},{"x":51,"y":1.24},{"x":52,"y":1.3},{"x":53,"y":1.3},{"x":54,"y":1.33},{"x":55,"y":1.3},{"x":56,"y":1.3},{"x":57,"y":1.3},{"x":58,"y":1.27},{"x":59,"y":1.34},{"x":60,"y":1.3},{"x":61,"y":1.3},{"x":62,"y":1.3},{"x":63,"y":1.3},{"x":64,"y":1.28}],
"cf999":[{"x":2,"y":4.92},{"x":3,"y":5.17},{"x":4,"y":3.11},{"x":5,"y":3.17},{"x":6,"y":2.7},{"x":7,"y":3.11},{"x":8,"y":2.9},{"x":9,"y":2.54},{"x":10,"y":2.35},{"x":11,"y":2.08},{"x":12,"y":2.0},{"x":13,"y":2.56},{"x":14,"y":2.16},{"x":15,"y":2.43},{"x":16,"y":2.08},{"x":17,"y":2.51},{"x":18,"y":2.27},{"x":19,"y":2.0},{"x":20,"y":1.95},{"x":21,"y":2.54},{"x":22,"y":2.16},{"x":23,"y":2.08},{"x":24,"y":1.87},{"x":25,"y":2.0},{"x":26,"y":1.79},{"x":27,"y":2.03},{"x":28,"y":1.68},{"x":29,"y":1.98},{"x":30,"y":1.75},{"x":31,"y":1.56},{"x":32,"y":1.63},{"x":33,"y":1.63},{"x":34,"y":1.52},{"x":35,"y":1.51},{"x":36,"y":1.27},{"x":37,"y":1.43},{"x":38,"y":1.16},{"x":39,"y":1.16},{"x":40,"y":1.27},{"x":41,"y":1.19},{"x":42,"y":1.16},{"x":43,"y":1.13},{"x":44,"y":0.97},{"x":45,"y":1.21},{"x":46,"y":1.14},{"x":47,"y":1.16},{"x":48,"y":1.13},{"x":49,"y":1.21},{"x":50,"y":1.11},{"x":51,"y":1.13},{"x":52,"y":1.16},{"x":53,"y":1.13},{"x":54,"y":1.14},{"x":55,"y":1.13},{"x":56,"y":1.14},{"x":57,"y":1.11},{"x":58,"y":1.13},{"x":59,"y":1.14},{"x":60,"y":1.14},{"x":61,"y":1.16},{"x":62,"y":1.16},{"x":63,"y":1.14},{"x":64,"y":1.16}]
},
"spacing":2,
"vconcat":[
 {"spacing":14,"hconcat":[
  {"spacing":22,"hconcat":[
   {"width":206,"height":121,"title":"SP-Colorectal","data":{"name":"sp42"},"layer":[
    {"mark":{"type":"bar","clip":true,"color":"black","stroke":"black","strokeWidth":1},"encoding":{"x":{"field":"x","type":"ordinal","scale":{"paddingInner":0,"paddingOuter":0},"axis":null},"y":{"field":"y","type":"quantitative","scale":{"domain":[0,6]},"axis":{"values":[0,2,4,6],"tickCount":10,"format":"d","title":["Accuracy","Contribution (%)"],"titleFontSize":16.5,"titleLineHeight":23,"labelPadding":11,"titlePadding":11}}}},
    {"data":{"values":[{}]},"mark":{"type":"rule","color":"black","strokeWidth":2.5},"encoding":{"x":{"datum":1,"type":"ordinal"},"x2":{"datum":40},"y":{"datum":4.9,"type":"quantitative"}}},
    {"data":{"values":[{}]},"mark":{"type":"point","shape":"M1,0L-1,-0.75L-1,0.75Z","size":169,"filled":true,"color":"black","opacity":1,"strokeWidth":0},"encoding":{"x":{"datum":43,"type":"ordinal"},"y":{"datum":4.9,"type":"quantitative"}}},
    {"data":{"values":[{}]},"mark":{"type":"text","text":"24%","align":"left","baseline":"middle","fontSize":19,"fontWeight":"bold","color":"black"},"encoding":{"x":{"datum":53,"type":"ordinal"},"y":{"datum":4.9,"type":"quantitative"}}},
    {"data":{"values":[{}]},"mark":{"type":"text","text":"Seed 42","baseline":"middle","fontSize":20,"fontWeight":"bold","fontStyle":"italic","color":"black"},"encoding":{"x":{"datum":118,"type":"ordinal"},"y":{"datum":2.88,"type":"quantitative"}}},
    {"data":{"values":[{}]},"mark":{"type":"rule","color":"black","strokeWidth":2.3},"encoding":{"x":{"datum":43,"type":"ordinal"},"x2":{"datum":193},"y":{"datum":6.4,"type":"quantitative"}}}
   ]},
   {"width":214,"height":121,"title":"TextileNet","data":{"name":"tn42"},"layer":[
    {"mark":{"type":"bar","clip":true,"color":"black","stroke":"black","strokeWidth":1},"encoding":{"x":{"field":"x","type":"ordinal","scale":{"paddingInner":0,"paddingOuter":0},"axis":null},"y":{"field":"y","type":"quantitative","scale":{"domain":[0,6]},"axis":{"values":[0,2,4,6],"tickCount":10,"labels":false,"title":null}}}},
    {"data":{"values":[{}]},"mark":{"type":"point","shape":"M-0.7,-0.85H0.7Q1,-0.85 1,-0.55V0.55Q1,0.85 0.7,0.85H-0.7Q-1,0.85 -1,0.55V-0.55Q-1,-0.85 -0.7,-0.85Z","size":256,"filled":false,"color":"black","strokeWidth":2.5,"opacity":1},"encoding":{"x":{"datum":2,"type":"ordinal"},"y":{"datum":5.78,"type":"quantitative"}}},
    {"data":{"values":[{}]},"mark":{"type":"rule","color":"black","strokeWidth":2.5},"encoding":{"x":{"datum":10,"type":"ordinal"},"x2":{"datum":42},"y":{"datum":5.95,"type":"quantitative"},"y2":{"datum":5.3}}},
    {"data":{"values":[{}]},"mark":{"type":"point","shape":"M1,0L-1,-0.75L-1,0.75Z","size":169,"angle":23,"filled":true,"color":"black","opacity":1,"strokeWidth":0},"encoding":{"x":{"datum":42,"type":"ordinal"},"y":{"datum":5.3,"type":"quantitative"}}},
    {"data":{"values":[{}]},"mark":{"type":"text","text":"13%, 16%, 7%","align":"left","baseline":"middle","fontSize":19,"fontWeight":"bold","color":"black"},"encoding":{"x":{"datum":52,"type":"ordinal"},"y":{"datum":4.96,"type":"quantitative"}}},
    {"data":{"values":[{}]},"mark":{"type":"text","text":"Seed 42","baseline":"middle","fontSize":20,"fontWeight":"bold","fontStyle":"italic","color":"black"},"encoding":{"x":{"datum":164,"type":"ordinal"},"y":{"datum":3.19,"type":"quantitative"}}},
    {"data":{"values":[{}]},"mark":{"type":"rule","color":"black","strokeWidth":2.3},"encoding":{"x":{"datum":57,"type":"ordinal"},"x2":{"datum":161},"y":{"datum":6.4,"type":"quantitative"}}}
   ]}
  ]},
  {"spacing":28,"hconcat":[
   {"width":219,"height":122,"title":"GTOS","data":{"name":"gt42"},"layer":[
    {"mark":{"type":"bar","clip":true,"color":"black","stroke":"black","strokeWidth":1},"encoding":{"x":{"field":"x","type":"ordinal","scale":{"paddingInner":0,"paddingOuter":0},"axis":null},"y":{"field":"y","type":"quantitative","scale":{"domain":[0,6]},"axis":{"values":[0,2,4,6],"tickCount":10,"labels":false,"title":null}}}},
    {"data":{"values":[{}]},"mark":{"type":"rule","color":"black","strokeWidth":2.5},"encoding":{"x":{"datum":1,"type":"ordinal"},"x2":{"datum":35},"y":{"datum":5.18,"type":"quantitative"}}},
    {"data":{"values":[{}]},"mark":{"type":"point","shape":"M1,0L-1,-0.75L-1,0.75Z","size":169,"filled":true,"color":"black","opacity":1,"strokeWidth":0},"encoding":{"x":{"datum":38,"type":"ordinal"},"y":{"datum":5.18,"type":"quantitative"}}},
    {"data":{"values":[{}]},"mark":{"type":"text","text":"28%","align":"left","baseline":"middle","fontSize":19,"fontWeight":"bold","color":"black"},"encoding":{"x":{"datum":48,"type":"ordinal"},"y":{"datum":5.1,"type":"quantitative"}}},
    {"data":{"values":[{}]},"mark":{"type":"text","text":"Seed 42","baseline":"middle","fontSize":20,"fontWeight":"bold","fontStyle":"italic","color":"black"},"encoding":{"x":{"datum":120,"type":"ordinal"},"y":{"datum":2.89,"type":"quantitative"}}},
    {"data":{"values":[{}]},"mark":{"type":"rule","color":"black","strokeWidth":2.3},"encoding":{"x":{"datum":76,"type":"ordinal"},"x2":{"datum":137},"y":{"datum":6.4,"type":"quantitative"}}}
   ]},
   {"width":253,"height":121,"title":"CIFAR-10","data":{"name":"cf42"},"layer":[
    {"mark":{"type":"bar","color":"black"},"encoding":{"x":{"field":"x","type":"ordinal","scale":{"paddingInner":0.5,"paddingOuter":0.25},"axis":null},"y":{"field":"y","type":"quantitative","scale":{"domain":[0,6]},"axis":{"values":[0,2,4,6],"tickCount":10,"labels":false,"title":null}}}},
    {"data":{"values":[{}]},"mark":{"type":"text","text":"Seed 42","baseline":"middle","fontSize":20,"fontWeight":"bold","fontStyle":"italic","color":"black"},"encoding":{"x":{"datum":34,"type":"ordinal"},"y":{"datum":3.06,"type":"quantitative"}}},
    {"data":{"values":[{}]},"mark":{"type":"rule","color":"black","strokeWidth":2.3},"encoding":{"x":{"datum":19,"type":"ordinal"},"x2":{"datum":45},"y":{"datum":6.4,"type":"quantitative"}}}
   ]}
  ]}
 ]},
 {"spacing":15,"vconcat":[
  {"spacing":11,"hconcat":[
   {"spacing":8,"hconcat":[
    {"width":206,"height":124,"data":{"name":"sp123"},"layer":[
     {"mark":{"type":"bar","clip":true,"color":"black","stroke":"black","strokeWidth":1},"encoding":{"x":{"field":"x","type":"ordinal","scale":{"paddingInner":0,"paddingOuter":0},"axis":null},"y":{"field":"y","type":"quantitative","scale":{"domain":[0,6]},"axis":{"values":[0,2,4,6],"tickCount":10,"format":"d","title":["Accuracy","Contribution (%)"],"titleFontSize":16.5,"titleLineHeight":23,"labelPadding":11,"titlePadding":11}}}},
     {"data":{"values":[{}]},"mark":{"type":"text","text":"Seed 123","baseline":"middle","fontSize":20,"fontWeight":"bold","fontStyle":"italic","color":"black"},"encoding":{"x":{"datum":112,"type":"ordinal"},"y":{"datum":2.72,"type":"quantitative"}}}
    ]},
    {"width":206,"height":121,"data":{"name":"tn123"},"layer":[
     {"mark":{"type":"bar","clip":true,"color":"black","stroke":"black","strokeWidth":1},"encoding":{"x":{"field":"x","type":"ordinal","scale":{"paddingInner":0,"paddingOuter":0},"axis":null},"y":{"field":"y","type":"quantitative","scale":{"domain":[0,7]},"axis":{"values":[0,3.5,7],"tickCount":10,"format":".1~f","title":null,"labelPadding":15}}}},
     {"data":{"values":[{}]},"mark":{"type":"point","shape":"M-0.7,-0.85H0.7Q1,-0.85 1,-0.55V0.55Q1,0.85 0.7,0.85H-0.7Q-1,0.85 -1,0.55V-0.55Q-1,-0.85 -0.7,-0.85Z","size":280,"filled":false,"color":"black","strokeWidth":2.5,"opacity":1},"encoding":{"x":{"datum":2,"type":"ordinal"},"y":{"datum":6.94,"type":"quantitative"}}},
     {"data":{"values":[{}]},"mark":{"type":"rule","color":"black","strokeWidth":2.5},"encoding":{"x":{"datum":13,"type":"ordinal"},"x2":{"datum":41},"y":{"datum":7.0,"type":"quantitative"},"y2":{"datum":6.4}}},
     {"data":{"values":[{}]},"mark":{"type":"point","shape":"M1,0L-1,-0.75L-1,0.75Z","size":169,"angle":21,"filled":true,"color":"black","opacity":1,"strokeWidth":0},"encoding":{"x":{"datum":41,"type":"ordinal"},"y":{"datum":6.4,"type":"quantitative"}}},
     {"data":{"values":[{}]},"mark":{"type":"text","text":"13%, 16%, 7%","align":"left","baseline":"middle","fontSize":19,"fontWeight":"bold","color":"black"},"encoding":{"x":{"datum":54,"type":"ordinal"},"y":{"datum":5.84,"type":"quantitative"}}},
     {"data":{"values":[{}]},"mark":{"type":"text","text":"Seed 123","baseline":"middle","fontSize":20,"fontWeight":"bold","fontStyle":"italic","color":"black"},"encoding":{"x":{"datum":153,"type":"ordinal"},"y":{"datum":3.2,"type":"quantitative"}}}
    ]}
   ]},
   {"spacing":10,"hconcat":[
    {"width":220,"height":124,"data":{"name":"gt123"},"layer":[
     {"mark":{"type":"bar","clip":true,"color":"black","stroke":"black","strokeWidth":1},"encoding":{"x":{"field":"x","type":"ordinal","scale":{"paddingInner":0,"paddingOuter":0},"axis":null},"y":{"field":"y","type":"quantitative","scale":{"domain":[0,6]},"axis":{"values":[0,2,4,6],"tickCount":10,"format":"d","title":null,"labelPadding":15}}}},
     {"data":{"values":[{}]},"mark":{"type":"rule","color":"black","strokeWidth":2.5},"encoding":{"x":{"datum":1,"type":"ordinal"},"x2":{"datum":36},"y":{"datum":4.98,"type":"quantitative"}}},
     {"data":{"values":[{}]},"mark":{"type":"point","shape":"M1,0L-1,-0.75L-1,0.75Z","size":169,"filled":true,"color":"black","opacity":1,"strokeWidth":0},"encoding":{"x":{"datum":39,"type":"ordinal"},"y":{"datum":4.98,"type":"quantitative"}}},
     {"data":{"values":[{}]},"mark":{"type":"text","text":"29%","align":"left","baseline":"middle","fontSize":19,"fontWeight":"bold","color":"black"},"encoding":{"x":{"datum":47,"type":"ordinal"},"y":{"datum":4.86,"type":"quantitative"}}},
     {"data":{"values":[{}]},"mark":{"type":"text","text":"Seed 123","baseline":"middle","fontSize":20,"fontWeight":"bold","fontStyle":"italic","color":"black"},"encoding":{"x":{"datum":96,"type":"ordinal"},"y":{"datum":2.81,"type":"quantitative"}}}
    ]},
    {"width":245,"height":128,"data":{"name":"cf123"},"layer":[
     {"mark":{"type":"bar","color":"black"},"encoding":{"x":{"field":"x","type":"ordinal","scale":{"paddingInner":0.5,"paddingOuter":0.25},"axis":null},"y":{"field":"y","type":"quantitative","scale":{"domain":[0,6]},"axis":{"values":[0,2,4,6],"tickCount":10,"labels":false,"title":null}}}},
     {"data":{"values":[{}]},"mark":{"type":"text","text":"Seed 123","baseline":"middle","fontSize":20,"fontWeight":"bold","fontStyle":"italic","color":"black"},"encoding":{"x":{"datum":43,"type":"ordinal"},"y":{"datum":3.22,"type":"quantitative"}}}
    ]}
   ]}
  ]},
  {"spacing":11,"hconcat":[
   {"spacing":10,"hconcat":[
    {"width":206,"height":118,"data":{"name":"sp999"},"layer":[
     {"mark":{"type":"bar","clip":true,"color":"black","stroke":"black","strokeWidth":1},"encoding":{"x":{"field":"x","type":"ordinal","scale":{"paddingInner":0,"paddingOuter":0},"axis":{"values":[1,24,47,70,93,116,139,162,185,208],"labelAngle":-90,"labelPadding":8,"title":"Frequency Component ID","titlePadding":6}},"y":{"field":"y","type":"quantitative","scale":{"domain":[0,6]},"axis":{"values":[0,2,4,6],"tickCount":10,"format":"d","title":["Accuracy","Contributions (%)"],"titleFontSize":16.5,"titleLineHeight":23,"labelPadding":11,"titlePadding":11}}}},
     {"data":{"values":[{}]},"mark":{"type":"text","text":"Seed 999","baseline":"middle","fontSize":20,"fontWeight":"bold","fontStyle":"italic","color":"black"},"encoding":{"x":{"datum":117,"type":"ordinal"},"y":{"datum":2.86,"type":"quantitative"}}}
    ]},
    {"width":206,"height":120,"data":{"name":"tn999"},"layer":[
     {"mark":{"type":"bar","clip":true,"color":"black","stroke":"black","strokeWidth":1},"encoding":{"x":{"field":"x","type":"ordinal","scale":{"paddingInner":0,"paddingOuter":0},"axis":{"values":[1,24,47,70,93,116,139,162,185,208],"labelAngle":-90,"labelPadding":8,"title":"Frequency Component ID","titlePadding":10}},"y":{"field":"y","type":"quantitative","scale":{"domain":[0,7]},"axis":{"values":[0,3.5,7],"tickCount":10,"format":".1~f","title":null,"labelPadding":15}}}},
     {"data":{"values":[{}]},"mark":{"type":"point","shape":"M-0.7,-0.85H0.7Q1,-0.85 1,-0.55V0.55Q1,0.85 0.7,0.85H-0.7Q-1,0.85 -1,0.55V-0.55Q-1,-0.85 -0.7,-0.85Z","size":361,"filled":false,"color":"black","strokeWidth":2.5,"opacity":1},"encoding":{"x":{"datum":4,"type":"ordinal"},"y":{"datum":6.76,"type":"quantitative"}}},
     {"data":{"values":[{}]},"mark":{"type":"rule","color":"black","strokeWidth":2.5},"encoding":{"x":{"datum":13,"type":"ordinal"},"x2":{"datum":34},"y":{"datum":6.46,"type":"quantitative"},"y2":{"datum":5.86}}},
     {"data":{"values":[{}]},"mark":{"type":"point","shape":"M1,0L-1,-0.75L-1,0.75Z","size":169,"angle":28,"filled":true,"color":"black","opacity":1,"strokeWidth":0},"encoding":{"x":{"datum":34,"type":"ordinal"},"y":{"datum":5.86,"type":"quantitative"}}},
     {"data":{"values":[{}]},"mark":{"type":"text","text":"15%, 16%, 7%","align":"left","baseline":"middle","fontSize":19,"fontWeight":"bold","color":"black"},"encoding":{"x":{"datum":51,"type":"ordinal"},"y":{"datum":5.6,"type":"quantitative"}}},
     {"data":{"values":[{}]},"mark":{"type":"text","text":"Seed 999","baseline":"middle","fontSize":20,"fontWeight":"bold","fontStyle":"italic","color":"black"},"encoding":{"x":{"datum":157,"type":"ordinal"},"y":{"datum":3.4,"type":"quantitative"}}}
    ]}
   ]},
   {"spacing":12,"hconcat":[
    {"width":220,"height":122,"data":{"name":"gt999"},"layer":[
     {"mark":{"type":"bar","clip":true,"color":"black","stroke":"black","strokeWidth":1},"encoding":{"x":{"field":"x","type":"ordinal","scale":{"paddingInner":0,"paddingOuter":0},"axis":{"values":[1,22,43,64,85,106,127,148,169,190,211],"labelAngle":-90,"labelPadding":10,"title":"Frequency Component ID","titlePadding":16}},"y":{"field":"y","type":"quantitative","scale":{"domain":[0,6]},"axis":{"values":[0,2,4,6],"tickCount":10,"format":"d","title":null,"labelPadding":15}}}},
     {"data":{"values":[{}]},"mark":{"type":"rule","color":"black","strokeWidth":2.5},"encoding":{"x":{"datum":1,"type":"ordinal"},"x2":{"datum":35},"y":{"datum":4.98,"type":"quantitative"}}},
     {"data":{"values":[{}]},"mark":{"type":"point","shape":"M1,0L-1,-0.75L-1,0.75Z","size":169,"filled":true,"color":"black","opacity":1,"strokeWidth":0},"encoding":{"x":{"datum":38,"type":"ordinal"},"y":{"datum":4.98,"type":"quantitative"}}},
     {"data":{"values":[{}]},"mark":{"type":"text","text":"27%","align":"left","baseline":"middle","fontSize":19,"fontWeight":"bold","color":"black"},"encoding":{"x":{"datum":48,"type":"ordinal"},"y":{"datum":4.97,"type":"quantitative"}}},
     {"data":{"values":[{}]},"mark":{"type":"text","text":"Seed 999","baseline":"middle","fontSize":20,"fontWeight":"bold","fontStyle":"italic","color":"black"},"encoding":{"x":{"datum":104,"type":"ordinal"},"y":{"datum":3.05,"type":"quantitative"}}}
    ]},
    {"width":232,"height":123,"data":{"name":"cf999"},"layer":[
     {"mark":{"type":"bar","color":"black"},"encoding":{"x":{"field":"x","type":"ordinal","scale":{"paddingInner":0.5,"paddingOuter":0.25},"axis":{"values":[2,8,14,20,26,32,38,44,50,56,62],"labelAngle":0,"labelPadding":13,"title":"Frequency Component ID","titlePadding":9}},"y":{"field":"y","type":"quantitative","scale":{"domain":[0,6]},"axis":{"values":[0,2,4,6],"tickCount":10,"labels":false,"title":null}}}},
     {"data":{"values":[{}]},"mark":{"type":"text","text":"Seed 999","baseline":"middle","fontSize":20,"fontWeight":"bold","fontStyle":"italic","color":"black"},"encoding":{"x":{"datum":42,"type":"ordinal"},"y":{"datum":3.32,"type":"quantitative"}}}
    ]}
   ]}
  ]}
 ]}
]
}
